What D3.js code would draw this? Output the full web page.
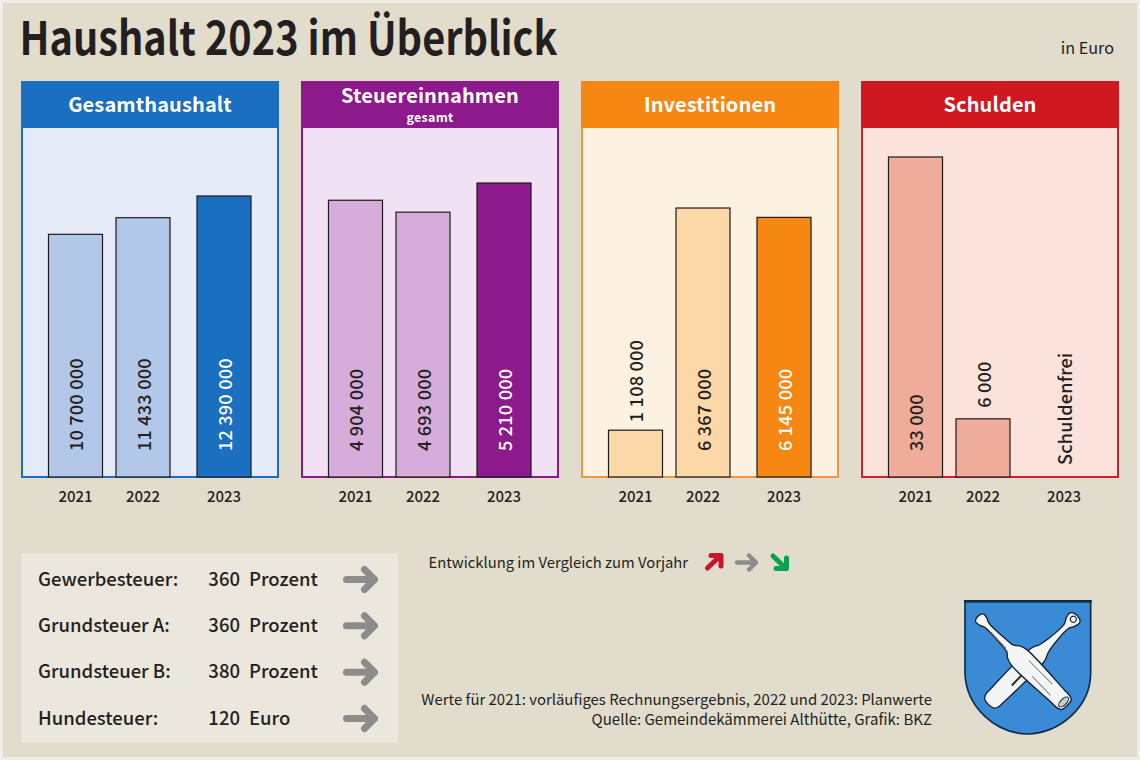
<!DOCTYPE html>
<html><head><meta charset="utf-8">
<script src="https://cdn.jsdelivr.net/npm/d3@7"></script>
<style>
html,body{margin:0;padding:0;background:#f0ede6;}
svg{display:block;}
text{font-family:"Noto Sans CJK SC","Noto Sans",sans-serif;fill:#231f20;}
</style></head><body>
<svg id="c" width="1140" height="760"></svg>
<script>
const years = ["2021","2022","2023"];
const panelNames = ["Gesamthaushalt","Steuereinnahmen","Investitionen","Schulden"];
const gesamthaushalt = [10700000,11433000,12390000];
const steuereinnahmen = [4904000,4693000,5210000];
const investitionen = [1108000,6367000,6145000];
const schulden = [33000,6000,0];
const steuerNamen = ["Gewerbesteuer:","Grundsteuer A:","Grundsteuer B:","Hundesteuer:"];
const steuerWerte = ["360","360","380","120"];
const steuerEinheiten = ["Prozent","Prozent","Prozent","Euro"];

const fmt = v => d3.format(",")(v).replace(/,/g," ");
const styles = [
 {main:"#1a6fc0",bg:"#e4eaf8",light:"#b3c7e8",edge:"#1a6fc0",top:196,values:gesamthaushalt,sub:null,gap:8},
 {main:"#8c1a8c",bg:"#f0e2f4",light:"#d6acdb",edge:"#8c1a8c",top:183,values:steuereinnahmen,sub:"gesamt",gap:8},
 {main:"#f78713",bg:"#fdf1e2",light:"#fcd7a8",edge:"#ec983f",top:208,values:investitionen,sub:null,gap:8},
 {main:"#cf1820",bg:"#fbe2da",light:"#efac9a",edge:"#c8242a",top:157,values:schulden,sub:null,gap:11}
];
const svg = d3.select("#c");
svg.append("rect").attr("x",3).attr("y",3).attr("width",1134).attr("height",754).attr("fill","#e2dccd");

svg.append("text").attr("x",19.5).attr("y",55).attr("font-size",46.5).attr("font-weight",700)
  .attr("textLength",538).attr("lengthAdjust","spacingAndGlyphs").text("Haushalt 2023 im Überblick");
svg.append("text").attr("x",1114).attr("y",54).attr("text-anchor","end").attr("font-size",16.2).attr("font-weight",400).text("in Euro");

const panelX = d3.scaleBand().domain(panelNames).range([21,1141]);
const base = 477;
const slot = d3.scaleOrdinal().domain(years).range([27.5,95,176]);
const barW = 54;

panelNames.forEach((name,i)=>{
  const s = styles[i];
  const g = svg.append("g").attr("transform",`translate(${panelX(name)},0)`);
  g.append("rect").attr("x",1).attr("y",82).attr("width",256).attr("height",395)
    .attr("fill",s.bg).attr("stroke",s.edge).attr("stroke-width",2);
  g.append("rect").attr("x",0).attr("y",81).attr("width",258).attr("height",47).attr("fill",s.main);
  g.append("text").attr("x",129).attr("y",s.sub?102.5:111.5).attr("text-anchor","middle")
    .attr("font-size",20).attr("font-weight",700).attr("letter-spacing",0.12).style("fill","#fff").text(name);
  if(s.sub) g.append("text").attr("x",129).attr("y",122).attr("text-anchor","middle")
    .attr("font-size",12.5).attr("font-weight",700).attr("letter-spacing",0.3).style("fill","#fff").text(s.sub);
  const y = d3.scaleLinear().domain([0,d3.max(s.values)]).range([base,s.top]);
  years.forEach((yr,k)=>{
    const v = s.values[k], x = slot(yr), current = k===2;
    if(v>0) g.append("rect").attr("x",x).attr("y",y(v)).attr("width",barW).attr("height",base-y(v))
      .attr("fill",current?s.main:s.light).attr("stroke","#1c1a1a").attr("stroke-width",1.2);
    g.append("text").attr("x",x+barW/2).attr("y",502).attr("text-anchor","middle")
      .attr("font-size",15).attr("font-weight",500).text(yr);
    const label = v>0?fmt(v):"Schuldenfrei";
    const smallBar = base-y(v) < 120 && v>0;
    const ly = smallBar ? y(v)-s.gap : (v>0?451:465);
    const lx = x+barW/2+7.5;
    g.append("text").attr("transform",`translate(${lx},${ly}) rotate(-90)`)
      .attr("font-size",18).attr("font-weight",500).attr("letter-spacing",0.25)
      .style("fill",(current&&v>0)?"#fff":"#231f20").text(label);
  });
});

// tax table
svg.append("rect").attr("x",21).attr("y",553).attr("width",377).attr("height",190).attr("fill","#ebe7dd");
const rowY = d3.scalePoint().domain(steuerNamen).range([585.5,724.5]);
function arrowH(sel,x0,x1,cy,col,w,h){
  sel.append("path").attr("d",`M${x0},${cy}H${x1}M${x1-h},${cy-h}L${x1},${cy}L${x1-h},${cy+h}`)
    .attr("fill","none").attr("stroke",col).attr("stroke-width",w)
    .attr("stroke-linecap","round").attr("stroke-linejoin","round");
}
steuerNamen.forEach((n,i)=>{
  const yy = rowY(n);
  svg.append("text").attr("x",38).attr("y",yy).attr("font-size",18.5).attr("font-weight",500).text(n);
  svg.append("text").attr("x",240).attr("y",yy).attr("text-anchor","end").attr("font-size",18.5).attr("font-weight",500).text(steuerWerte[i]);
  svg.append("text").attr("x",249).attr("y",yy).attr("font-size",18.5).attr("font-weight",500).text(steuerEinheiten[i]);
  arrowH(svg,346.5,374.5,yy-6,"#8e8c8b",7,10);
});

// legend
svg.append("text").attr("x",428.5).attr("y",568).attr("font-size",14.8).attr("font-weight",400).text("Entwicklung im Vergleich zum Vorjahr");
svg.append("path").attr("d","M707.5,568L720,556M711,555.5H721V566").attr("fill","none").attr("stroke","#c5182a").attr("stroke-width",5).attr("stroke-linecap","round").attr("stroke-linejoin","round");
arrowH(svg,737,756,562.5,"#8e8c8b",4.5,7);
svg.append("path").attr("d","M773,556L786,568.5M776,568.5H786.5V558").attr("fill","none").attr("stroke","#0da14b").attr("stroke-width",5).attr("stroke-linecap","round").attr("stroke-linejoin","round");

// source
svg.append("text").attr("x",932).attr("y",705).attr("text-anchor","end").attr("font-size",14.93).text("Werte für 2021: vorläufiges Rechnungsergebnis, 2022 und 2023: Planwerte");
svg.append("text").attr("x",932).attr("y",725).attr("text-anchor","end").attr("font-size",15).text("Quelle: Gemeindekämmerei Althütte, Grafik: BKZ");

// crest (drawn in 3x coordinates)
const crest = svg.append("g").attr("transform","translate(940,590) scale(0.3333)");
crest.append("path").attr("d","M75,33H452V250C452,350 360,430 262,432C165,430 78,350 75,250Z")
  .attr("fill","#3a8ad6").attr("stroke","#0e2b47").attr("stroke-width",5);
crest.append("rect").attr("x",72).attr("y",30).attr("width",383).attr("height",8).attr("fill","#0e2b47");
function clubPath(profile){
  const top = profile.map(p=>[p[0],-p[1]]);
  const bot = profile.map(p=>[p[0],p[1]]).reverse();
  return d3.line().curve(d3.curveCatmullRomClosed.alpha(0.5))(top.concat(bot));
}
const profileFront = [[0,10],[6,17],[22,15],[36,9],[110,11],[135,14],[150,26],[175,33],[340,27],[362,26],[374,20]];
const profileBack = [[0,12],[8,21],[26,18],[44,9],[110,12],[140,18],[165,28],[340,28],[358,27],[372,18]];
const clubStroke = "#12202c";
const back = crest.append("g").attr("transform","translate(410,78) rotate(135)");
back.append("path").attr("d",clubPath(profileBack)).attr("fill","#f4f5f5").attr("stroke",clubStroke).attr("stroke-width",4);
back.append("path").attr("d","M215,-8L285,-10M200,14L240,16").attr("stroke","#22303b").attr("stroke-width",6).attr("fill","none");
back.append("circle").attr("cx",14).attr("cy",0).attr("r",9).attr("fill","#f4f5f5").attr("stroke",clubStroke).attr("stroke-width",3);
const front = crest.append("g").attr("transform","translate(115,80) rotate(45)");
front.append("path").attr("d",clubPath(profileFront)).attr("fill","#f4f5f5").attr("stroke",clubStroke).attr("stroke-width",4);
front.append("path").attr("d","M200,-14L300,-14M240,12L320,14M60,6L125,8").attr("stroke","#7d8890").attr("stroke-width",3).attr("fill","none");
front.append("ellipse").attr("cx",362).attr("cy",0).attr("rx",9).attr("ry",19).attr("fill","#c8ccd0").attr("stroke",clubStroke).attr("stroke-width",3);
</script></body></html>
